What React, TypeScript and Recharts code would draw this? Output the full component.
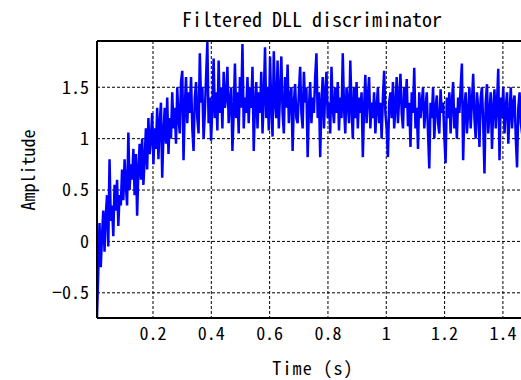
import React from "react"
import {
  LineChart,
  Line,
  XAxis,
  YAxis,
  CartesianGrid,
  ReferenceLine,
} from "recharts"

// sample grid of the loop output
const T0 = 0.008
const DT = 0.0043

// filtered discriminator output
const riseAmp = [
  -0.74, -0.3, 0.18, -0.25, 0.05, 0.3, -0.1, 0.25, 0.45, -0.05,
  0.8, 0.2, 0.35, 0.05, 0.55, 0.3, 0.6, 0.15, 0.45, 0.35,
  0.7, 0.4, 0.8, 0.55, 0.35, 1.06, 0.5, 0.75, 0.6, 0.9,
  0.45, 0.85, 0.25, 0.7, 0.95, 0.6, 1.0, 0.55, 0.8, 1.1,
  0.7, 1.2, 0.85, 1.0, 1.25, 0.75, 1.1, 0.9, 1.3, 0.8,
  1.15, 1.35, 0.62, 1.05, 1.3, 0.95, 1.4, 0.85, 1.2, 1.0,
]
const peakAmp = [
  1.45, 1.1, 1.3, 0.95, 1.5, 1.2, 1.05, 1.55, 1.66, 0.79,
  1.3, 1.6, 1.15, 1.45, 1.25, 1.6, 1.1, 0.88, 1.4, 1.55,
  1.2, 1.05, 1.83, 1.35, 1.5, 1.0, 1.25, 1.6, 1.94, 1.15,
  1.4, 0.98, 1.3, 1.78, 1.2, 1.45, 1.08, 1.76, 1.25, 1.5,
  1.1, 1.65, 1.3, 1.4, 1.7, 1.15, 1.35, 1.5, 0.88, 1.25,
  1.73, 1.2, 1.45, 1.05, 1.6, 1.3, 1.92, 1.1, 1.4, 1.25,
  1.6, 1.15, 1.5, 1.3, 1.7, 0.88, 1.35, 1.55, 1.1, 1.45,
  1.25, 1.65, 1.05, 1.4, 1.89, 1.2, 1.5, 1.08, 1.8, 1.3,
  1.02, 1.85, 1.35, 1.2, 1.76, 1.1, 1.45, 1.8, 1.25, 1.05,
  1.6, 1.3, 1.72, 1.15, 1.4, 1.5, 0.88, 1.35, 1.53, 1.2,
]
const plateauAmp = [
  1.15, 1.45, 1.7, 1.25, 1.1, 1.65, 1.35, 1.5, 0.82, 1.3,
  1.55, 1.15, 1.4, 1.25, 1.6, 1.83, 1.2, 1.45, 0.82, 1.35,
  1.6, 1.1, 1.45, 1.65, 1.2, 1.35, 1.05, 1.7, 1.3, 1.15,
  1.5, 1.25, 1.55, 1.08, 1.4, 1.2, 1.83, 1.3, 1.05, 1.5,
  1.35, 1.15, 1.76, 1.3, 1.0, 1.5, 1.2, 1.55, 1.1, 1.4,
  1.25, 1.45, 0.82, 1.3, 1.62, 1.15, 1.4, 1.6, 1.1, 1.35,
  1.2, 1.45, 1.05, 1.3, 1.5, 1.15, 1.35, 1.0, 1.4, 1.66,
  1.25, 1.1, 0.82, 1.35, 1.45, 1.2, 1.55, 1.1, 1.3, 1.6,
]
const tailAmp = [
  1.15, 1.4, 1.63, 1.25, 1.1, 1.5, 1.3, 1.58, 1.12, 1.35,
  0.92, 1.45, 1.25, 1.69, 1.1, 1.3, 0.9, 1.45, 1.2, 1.35,
  1.5, 1.1, 1.3, 1.45, 1.05, 0.71, 1.35, 1.2, 1.5, 1.0,
  1.3, 1.42, 1.15, 1.05, 1.48, 1.25, 1.35, 1.02, 0.76, 1.4,
  1.2, 1.45, 1.05, 1.35, 1.55, 1.1, 1.3, 1.0, 1.4, 1.25,
  1.5, 1.73, 0.79, 1.3, 1.45, 1.05, 1.25, 1.5, 1.1, 1.35,
  1.63, 1.2, 1.0, 1.45, 1.3, 0.92, 1.4, 1.5, 1.15, 0.66,
  1.35, 1.53, 1.05, 1.25, 1.45, 0.9, 1.3, 1.48, 1.1, 1.35,
  1.68, 0.79, 1.4, 1.2, 1.5, 1.05, 1.3, 1.45, 0.95, 1.25,
  1.5, 1.1, 1.35, 1.42, 1.0, 0.72, 1.3, 1.45, 1.15, 1.05,
  1.4, 1.25, 1.5, 1.1, 1.3,
]

const xTicks = [0.2, 0.4, 0.6, 0.8, 1, 1.2, 1.4]
const yTicks = [-0.5, 0, 0.5, 1, 1.5]
const X_DOMAIN: [number, number] = [0.008, 1.486]
const Y_DOMAIN: [number, number] = [-0.745, 1.95]

const FONT = "'Noto Sans Mono CJK JP', 'Noto Sans CJK JP', 'Noto Sans', sans-serif"

const amp = [...riseAmp, ...peakAmp, ...plateauAmp, ...tailAmp]
const data = amp.map((v, i) => ({ t: T0 + i * DT, v }))

const fmt = (n: number) => String(n).replace("-", "\u2212")

const labelStyle: React.CSSProperties = {
  position: "absolute",
  whiteSpace: "nowrap",
  fontSize: 18,
}

export default function App() {
  return (
    <div
      style={{
        position: "relative",
        width: 521,
        height: 380,
        overflow: "hidden",
        fontFamily: FONT,
        color: "#000",
        background: "#fff",
      }}
    >
      <style>{"body { margin: 0; }"}</style>
      <LineChart
        width={536}
        height={380}
        data={data}
        margin={{ top: 41, right: 8, bottom: 22, left: 0 }}
      >
        <CartesianGrid stroke="#000" strokeDasharray="3 2" strokeWidth={1} />
        <XAxis
          dataKey="t"
          type="number"
          domain={X_DOMAIN}
          allowDataOverflow
          ticks={xTicks}
          tickFormatter={fmt}
          height={40}
          tickLine={false}
          tickMargin={3}
          axisLine={{ stroke: "#000", strokeWidth: 2 }}
          tick={{ fill: "#000", fontSize: 18, fontFamily: FONT }}
        />
        <YAxis
          type="number"
          domain={Y_DOMAIN}
          allowDataOverflow
          ticks={yTicks}
          tickFormatter={fmt}
          width={97}
          tickLine={false}
          axisLine={{ stroke: "#000", strokeWidth: 2 }}
          tick={{ fill: "#000", fontSize: 18, fontFamily: FONT }}
        />
        <ReferenceLine y={1.95} stroke="#000" strokeWidth={2} />
        <Line
          type="linear"
          dataKey="v"
          stroke="#0000ff"
          strokeWidth={2.5}
          dot={false}
          isAnimationActive={false}
        />
      </LineChart>
      <div
        style={{
          ...labelStyle,
          left: 312,
          top: 18,
          transform: "translate(-50%, -50%)",
          fontSize: 20,
        }}
      >
        Filtered DLL discriminator
      </div>
      <div
        style={{
          ...labelStyle,
          left: 313,
          top: 367,
          transform: "translate(-50%, -50%)",
          letterSpacing: 1.2,
        }}
      >
        Time (s)
      </div>
      <div
        style={{
          ...labelStyle,
          left: 27,
          top: 170,
          transform: "translate(-50%, -50%) rotate(-90deg)",
        }}
      >
        Amplitude
      </div>
    </div>
  )
}
